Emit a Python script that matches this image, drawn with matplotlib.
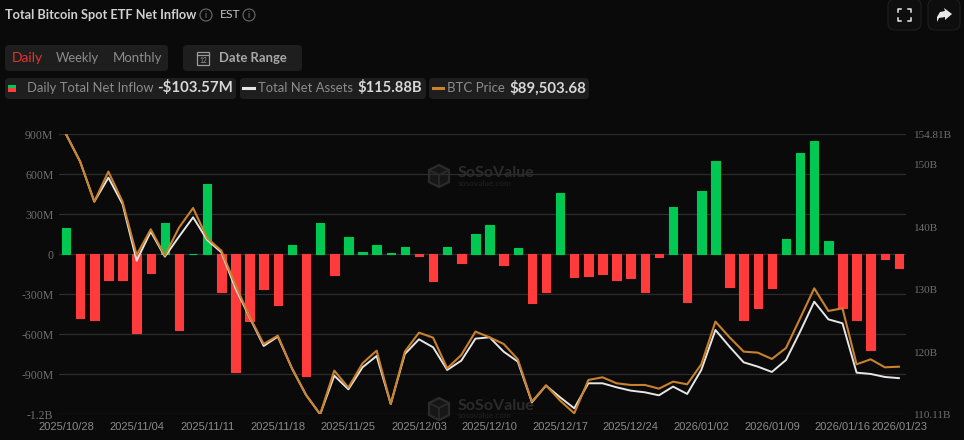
# -*- coding: utf-8 -*-
"""
Total Bitcoin spot ETF daily net inflow, with total net assets and BTC price.
Dark dashboard layout: header controls, legend chips, bars plus two line overlays.
"""

import matplotlib
matplotlib.use("Agg")
import matplotlib.pyplot as plt
from matplotlib.patches import FancyBboxPatch, Circle, Polygon, Rectangle

W, H = 964, 440
BG = "#0a0a0a"
CHIP = "#1e1e1e"
GREEN = "#00c853"
RED = "#ff3b3b"
ORANGE = "#c9812b"
WHITE = "#e6e6e6"
GRID = "#2c2c2c"
AXIS_TXT = "#6f6f6f"

# daily net inflow, $M
inflow = [
    200, -478, -496, -195, -190, -587, -139, 238, -567, 2,
    529, -283, -880, -498, -258, -377, 73, -916, 238, -154,
    129, 20, 71, 8, 58, -15, -200, 53, -66, 149,
    223, -78, 48, -362, -283, 460, -167, -162, -147, -195,
    -180, -283, -20, 354, -354, 473, 701, -248, -493, -405,
    -256, 114, 759, 850, 99, -400, -491, -718, -33, -103.57,
]
# total net assets, $B
net_assets = [
    154.81, 150.44, 144.06, 147.89, 143.69, 134.64, 139.27, 135.28, 138.47, 141.56,
    137.94, 135.97, 130.22, 125.59, 121.02, 122.51, 117.45, 113.20, 110.11, 116.28,
    114.10, 117.61, 119.42, 111.76, 119.74, 122.08, 120.81, 117.19, 118.68, 122.19,
    122.40, 120.11, 118.52, 112.03, 114.69, 112.82, 111.07, 115.06, 115.06, 114.42,
    113.89, 113.62, 113.14, 114.53, 113.36, 117.19, 123.57, 120.91, 118.41, 117.72,
    116.87, 118.78, 123.31, 128.09, 125.27, 124.64, 116.76, 116.55, 116.07, 115.88,
]
# BTC price, $
btc_price = [
    114000, 111119, 106903, 110065, 106903, 101281, 103986, 101211, 104162, 106235,
    103038, 101738, 98119, 94781, 91900, 92778, 89335, 86524, 84486, 89089,
    87297, 89862, 91197, 85575, 91092, 93094, 92567, 89335, 90740, 93200,
    92602, 91900, 90283, 85821, 87543, 85927, 84591, 88105, 88386, 87754,
    87578, 87578, 87191, 87929, 87648, 89756, 94254, 92602, 91092, 90986,
    90319, 91478, 94605, 97767, 95378, 95659, 89756, 90283, 89440, 89503.68,
]

tick_pos = [0, 5, 10, 15, 20, 25, 30, 35, 40, 45, 50, 55, 59]
tick_dates = ["2025/10/28", "2025/11/04", "2025/11/11", "2025/11/18", "2025/11/25",
              "2025/12/03", "2025/12/10", "2025/12/17", "2025/12/24", "2026/01/02",
              "2026/01/09", "2026/01/16", "2026/01/23"]
left_ticks = [900, 600, 300, 0, -300, -600, -900, -1200]
left_labels = ["900M", "600M", "300M", "0", "-300M", "-600M", "-900M", "-1.2B"]
right_ticks = [154.81, 150, 140, 130, 120, 110.11]
right_labels = ["154.81B", "150B", "140B", "130B", "120B", "110.11B"]


def box(l, t, r, b):
    """Axes rectangle from pixel edges measured from the top-left corner."""
    return [l / W, 1 - b / H, (r - l) / W, (b - t) / H]


plt.rcParams["font.family"] = ["Lato", "DejaVu Sans"]
fig = plt.figure(figsize=(W / 100, H / 100), dpi=100, facecolor=BG)

# overlay in pixel coordinates for the dashboard chrome
ui = fig.add_axes([0, 0, 1, 1], zorder=0)
ui.set_xlim(0, W)
ui.set_ylim(H, 0)
ui.axis("off")


def chip(l, t, r, b, fc=CHIP, ec="none", rad=4):
    ui.add_patch(FancyBboxPatch((l + rad, t + rad), r - l - 2 * rad, b - t - 2 * rad,
                                boxstyle=f"round,pad={rad},rounding_size={rad}",
                                fc=fc, ec=ec, lw=0.8))


def label(x, y, s, color="#9a9a9a", size=10, weight="normal", ha="left"):
    ui.text(x, y, s, color=color, fontsize=size, fontweight=weight, ha=ha, va="center")


def info_icon(x, y):
    ui.add_patch(Circle((x, y), 6, fc="none", ec="#6a6a6a", lw=0.8))
    ui.text(x, y, "i", color="#808080", fontsize=6.5, ha="center", va="center")


# header
label(5, 15, "Total Bitcoin Spot ETF Net Inflow", "#d0d0d0", 9.2, "bold")
info_icon(206, 15)
label(220, 15, "EST", "#c4c4c4", 8.7)
info_icon(249, 15)
chip(888, -1, 921, 30, fc="#0e0e0e", ec="#1e1e1e", rad=7)
chip(928, -1, 960, 30, fc="#0e0e0e", ec="#1e1e1e", rad=7)
for cx, cy, sx, sy in [(898, 9, 1, 1), (911, 9, -1, 1), (898, 21, 1, -1), (911, 21, -1, -1)]:
    ui.plot([cx, cx, cx + 3 * sx], [cy + 3 * sy, cy, cy], color="#e8e8e8", lw=1.1)
ui.add_patch(Polygon([(944, 8), (952, 14), (945, 20), (945, 17), (939, 18), (937, 22),
                      (937, 17), (940, 12), (945, 11)], fc="#e8e8e8", ec="none"))

# range controls
chip(5, 45, 168, 71)
label(12, 58, "Daily", "#e0372f", 10)
label(56, 58, "Weekly", "#8c8c8c", 9.3)
label(113, 58, "Monthly", "#8c8c8c", 9.5)
chip(183, 45, 302, 71)
ui.add_patch(Rectangle((197, 52), 12, 13, fc="none", ec="#9a9a9a", lw=0.9))
ui.plot([197, 209], [55.5, 55.5], color="#9a9a9a", lw=0.9)
ui.text(203, 60.5, "12", color="#9a9a9a", fontsize=4.8, ha="center", va="center")
label(219, 58, "Date Range", "#a8a8a8", 9.4, "bold")

# legend chips
chip(5, 78, 236, 99)
ui.add_patch(Rectangle((8, 85), 8, 3.5, fc=GREEN, ec="none"))
ui.add_patch(Rectangle((8, 88.5), 8, 3.5, fc=RED, ec="none"))
label(27, 88, "Daily Total Net Inflow", "#8c8c8c", 9.4)
label(157, 88, "-$103.57M", "#d8d8d8", 10.8, "bold")
chip(240, 78, 426, 99)
ui.plot([243, 254], [88, 88], color=WHITE, lw=2.2)
label(258, 88, "Total Net Assets", "#8c8c8c", 9.4)
label(357, 88, "$115.88B", "#d8d8d8", 10.6, "bold")
chip(429, 78, 589, 99)
ui.plot([433, 443], [88, 88], color=ORANGE, lw=2.2)
label(447, 88, "BTC Price", "#8c8c8c", 9.5)
label(509, 88, "$89,503.68", "#d8d8d8", 10.8, "bold")

# plot area
ax = fig.add_axes(box(59, 134.3, 906, 414.3), zorder=2)
ax.patch.set_alpha(0)
x = list(range(len(inflow)))
colors = [GREEN if v >= 0 else RED for v in inflow]
ax.bar(x, inflow, width=0.6, color=colors, edgecolor=colors, linewidth=0.8,
       joinstyle="round", zorder=3)
ax.set_xlim(-0.5, 59.5)
ax.set_ylim(-1200, 900)
ax.set_yticks(left_ticks, left_labels)
ax.set_xticks(tick_pos, tick_dates)
ax.grid(axis="y", color=GRID, lw=0.9, zorder=1)
ax.tick_params(axis="y", length=0, pad=4, labelcolor=AXIS_TXT)
ax.tick_params(axis="x", length=0, pad=5.6, labelcolor="#8a8a8a")
for t in ax.get_yticklabels():
    t.set_fontfamily("Liberation Serif")
    t.set_fontsize(8.5)
for t in ax.get_xticklabels():
    t.set_fontfamily("Liberation Sans")
    t.set_fontsize(8)
for s in ax.spines.values():
    s.set_visible(False)

# net assets on the visible right scale
ax_r = ax.twinx()
ax_r.set_ylim(110.11, 154.81)
ax_r.set_yticks(right_ticks, right_labels)
ax_r.tick_params(axis="y", length=0, pad=5.8, labelcolor=AXIS_TXT)
for t in ax_r.get_yticklabels():
    t.set_fontfamily("Liberation Serif")
    t.set_fontsize(8)
ax_r.plot(x, net_assets, color=WHITE, lw=1.4, zorder=4)
for s in ax_r.spines.values():
    s.set_visible(False)

# BTC price on its own hidden scale
ax_p = ax.twinx()
ax_p.set_ylim(84486, 114000)
ax_p.axis("off")
ax_p.plot(x, btc_price, color=ORANGE, lw=1.5, zorder=5)

# faint watermarks
for wx, wy in [(439, 176), (439, 409)]:
    ui.add_patch(Polygon([(wx - 10, wy - 6), (wx, wy - 11), (wx + 10, wy - 6), (wx + 10, wy + 6),
                          (wx, wy + 11), (wx - 10, wy + 6)], fc="#161616", ec="#2b2b2b", lw=1.6))
    ui.plot([wx - 10, wx, wx + 10], [wy - 6, wy - 1, wy - 6], color="#2b2b2b", lw=1.2)
    ui.plot([wx, wx], [wy - 1, wy + 11], color="#2b2b2b", lw=1.2)
    ui.text(wx + 19, wy - 3, "SoSoValue", color="#2b2b2b", fontsize=11.5, fontweight="bold",
            va="center")
    ui.text(wx + 19, wy + 7, "sosovalue.com", color="#222222", fontsize=6, va="center")

fig.savefig("out.png", dpi=100, facecolor=BG)
